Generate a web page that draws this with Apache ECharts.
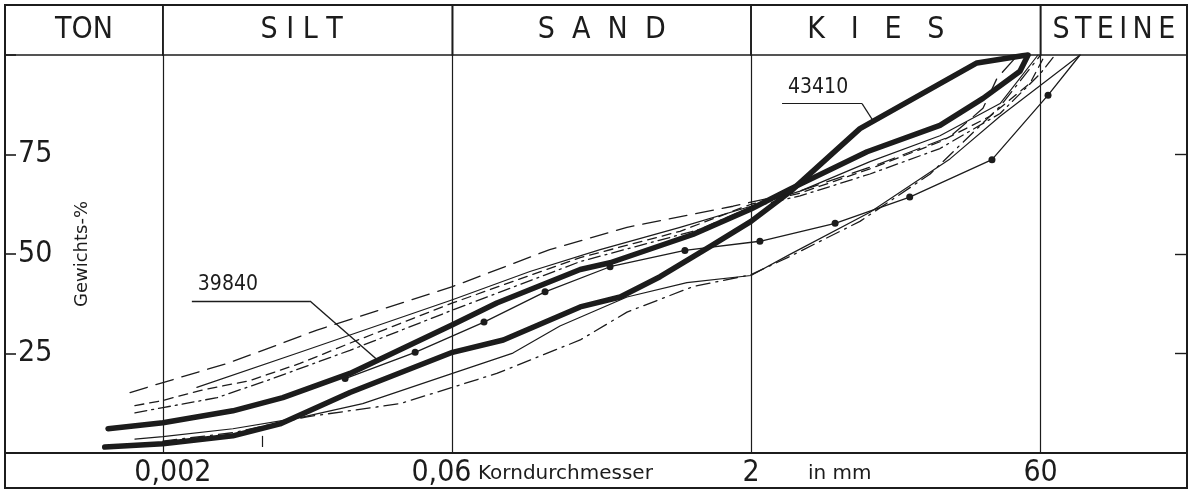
<!DOCTYPE html>
<html><head><meta charset="utf-8">
<script src="https://cdn.jsdelivr.net/npm/echarts@6/dist/echarts.min.js"></script>
<style>html,body{margin:0;padding:0;background:#fff;}#c{width:1189px;height:490px;}</style>
</head><body><div id="c"></div>
<script>
// ---- axis / zone data ----
const xMin = 0.000313, xMax = 335;
const zoneBounds = [xMin, 0.002, 0.06, 2, 60, xMax];
const zoneNames = ['TON', 'S I L T', 'S  A  N  D', 'K   I   E   S', 'S\u2009T\u2009E\u2009I\u2009N\u2009E'];
const sizeTicks = [0.002, 0.06, 2, 60];
const sizeTickLabels = ['0,002', '0,06', '2', '60'];
const yTickValues = [25, 50, 75];

// ---- grading curves: [grain diameter mm, passing %] ----
const s39840 = [[0.00105,6.1],[0.002,7.6],[0.00455,10.6],[0.00818,13.9],[0.018,20.0],[0.06,32.2],[0.101,37.7],[0.269,46.1],[0.382,47.8],[1.01,54.9],[2,61.3],[3.16,66.3],[7.82,75.7],[18.4,82.3],[30.5,89.1],[47.1,95.9],[51.8,100]];
const s43410 = [[0.00101,1.5],[0.002,2.3],[0.00455,4.3],[0.00791,7.3],[0.018,15.2],[0.06,25.3],[0.109,28.4],[0.269,36.7],[0.43,39.2],[0.687,44.3],[1.24,51.9],[2,58.2],[3.16,65.6],[7.19,81.5],[28.4,98.0],[51.2,100]];
const sDots = [[0.017,18.7],[0.0387,25.3],[0.0869,32.9],[0.178,40.5],[0.382,46.8],[0.92,50.9],[2.22,53.2],[5.37,57.7],[12.9,64.3],[33.9,73.7],[65.5,89.9],[95.4,100]];
const sLongDash = [[0.00136,15.2],[0.002,17.7],[0.00425,22.5],[0.00764,27.1],[0.01222,30.9],[0.06,41.8],[0.188,51.1],[0.466,56.7],[1.62,62.0],[3.56,65.8],[9.10,72.7],[20.7,79.5],[30.5,86.6],[36.0,94.2],[46.0,100]];
const sDash = [[0.00144,11.9],[0.002,13.2],[0.00309,15.7],[0.00556,18.2],[0.01,22.5],[0.018,27.6],[0.06,37.7],[0.269,49.1],[0.869,55.7],[2,62.5],[3.56,65.3],[8.09,71.4],[18.4,78.2],[33.1,84.6],[53.0,92.9],[63.2,100]];
const sDashDot = [[0.00144,10.1],[0.002,11.4],[0.00378,13.9],[0.00679,18.2],[0.018,25.8],[0.06,35.9],[0.269,48.1],[1.10,56.2],[2,61.8],[3.56,64.6],[8.09,70.1],[18.4,76.5],[37.3,85.3],[60,95.4],[71.1,100]];
const sThin = [[0.00298,16.5],[0.01,25.3],[0.06,38.5],[0.149,45.6],[0.340,51.1],[0.869,56.7],[2,62.0],[3.56,65.8],[8.09,73.2],[18.4,79.7],[37.3,87.8],[58.2,100]];
const sThinLow = [[0.00144,3.5],[0.002,4.1],[0.00455,6.1],[0.01,8.9],[0.0209,12.4],[0.06,20.0],[0.122,25.1],[0.212,31.9],[0.466,39.2],[0.942,42.8],[2,44.6],[3.16,49.9],[8.09,60.5],[20.7,73.9],[37.3,84.6],[95.4,100]];
const sDashDotLow = [[0.002,3.0],[0.00455,5.1],[0.01087,9.1],[0.0324,12.4],[0.06,16.5],[0.101,20.0],[0.269,28.4],[0.466,35.4],[1.01,41.8],[2,44.8],[3.16,49.4],[7.19,58.2],[16.4,70.1],[37.3,87.1],[60,100]];

// ---- annotations ----
const leader39840 = [[0.00281,38.2],[0.01125,38.2],[0.0247,23.5]];
const leader43410 = [[2.88,87.8],[7.37,87.8],[8.38,83.5]];
const smallMark = [[0.0064,1.5],[0.0064,4.3]];

const F = "'DejaVu Sans Condensed','DejaVu Sans',sans-serif";
const F2 = "'DejaVu Sans',sans-serif";
const INK = '#1c1c1c';
const zoneLabelShift = [0, -6, 0, -20, 0];
const tickLabelShift = [10, -11, 0, 0];
const rightTickStart = xMax / Math.pow(10, 12 / 196);

function segments(pts, text){
  const out = [];
  for (let i = 0; i < pts.length - 1; i++) {
    const lab = (i === 0 && text) ? {show:true, formatter:text, position:'insideStartTop', distance:6, fontFamily:F, fontSize:21, color:INK} : {show:false};
    out.push([{coord:pts[i], label:lab}, {coord:pts[i+1], label:lab}]);
  }
  return out;
}

function curve(name, data, width, type, extra){
  return Object.assign({
    name, type:'line', data, xAxisIndex:0, yAxisIndex:0,
    symbol:'none', smooth:false, silent:true,
    lineStyle:{color:INK, width, type, join:'round', cap:'round'},
    z:3
  }, extra || {});
}

const chart = echarts.init(document.getElementById('c'));
chart.setOption({
  animation:false,
  backgroundColor:'#fff',
  grid:[
    {left:5, right:2, top:55, bottom:37},
    {left:5, right:2, top:5, height:50}
  ],
  xAxis:[
    {type:'log', logBase:10, min:xMin, max:xMax, gridIndex:0,
     axisLine:{show:true, lineStyle:{color:INK, width:2}},
     axisTick:{show:false}, axisLabel:{show:false}, splitLine:{show:false}},
    {type:'log', logBase:10, min:xMin, max:xMax, gridIndex:1, show:false}
  ],
  yAxis:[
    {type:'value', min:0, max:100, interval:25, gridIndex:0, position:'left',
     axisLine:{show:false},
     axisTick:{show:true, inside:true, length:11, lineStyle:{color:INK, width:1.6}},
     axisLabel:{show:true, inside:true, margin:13, fontFamily:F, fontSize:30, color:INK,
       formatter:v => yTickValues.indexOf(v) >= 0 ? String(v) : ''},
     splitLine:{show:false},
     name:'Gewichts-%', nameLocation:'middle', nameRotate:90, nameGap:-86,
     nameTextStyle:{fontFamily:F2, fontSize:18, color:INK}},
    {type:'value', min:0, max:1, gridIndex:1, show:false}
  ],
  graphic:[
    {type:'rect', shape:{x:5, y:5, width:1182, height:483}, style:{fill:'none', stroke:INK, lineWidth:2}, z:10},
    {type:'text', left:478, top:464, style:{text:'Korndurchmesser', fontFamily:F2, fontSize:20, fill:INK}},
    {type:'text', left:808, top:464, style:{text:'in mm', fontFamily:F2, fontSize:20, fill:INK}}
  ],
  series:[
    {type:'line', name:'zones', data:[], xAxisIndex:1, yAxisIndex:1, silent:true,
     markArea:{silent:true,
       itemStyle:{color:'rgba(0,0,0,0)', borderColor:INK, borderWidth:1.6},
       label:{show:true, position:'inside', fontFamily:F, fontSize:30, color:INK},
       data: zoneNames.map((n,i) => [{name:n, xAxis:zoneBounds[i], label:{offset:[zoneLabelShift[i],0]}}, {xAxis:zoneBounds[i+1]}])}},
    curve('39840', s39840, 5.5, 'solid', {
      markLine:{silent:true, precision:10, symbol:['none','none'], lineStyle:{color:INK, width:1.4, type:'solid'},
        data: segments(leader39840, '39840')
          .concat(yTickValues.map(v => [{coord:[rightTickStart, v], label:{show:false}}, {coord:[xMax, v], label:{show:false}}]))}}),
    curve('43410', s43410, 5.5, 'solid', {
      markLine:{silent:true, precision:10, symbol:['none','none'], animation:false,
        lineStyle:{color:INK, width:1.2, type:'solid'},
        label:{show:true, position:'start', distance:5, fontFamily:F, fontSize:30, color:INK},
        data: sizeTicks.map((v,i) => ({xAxis:v, label:{formatter:sizeTickLabels[i], offset:[tickLabelShift[i],0]}}))
          .concat(segments(smallMark, null))
          .concat(segments(leader43410, '43410'))}}),
    curve('dots', sDots, 1.3, 'solid', {
      symbol:(v, p) => p.dataIndex === sDots.length - 1 ? 'none' : 'circle',
      symbolSize:7, showAllSymbol:true, itemStyle:{color:INK}}),
    curve('longdash', sLongDash, 1.3, [18, 9]),
    curve('dash', sDash, 1.3, [9, 6]),
    curve('dashdot', sDashDot, 1.3, [12, 5, 2, 5]),
    curve('thin', sThin, 1.2, 'solid'),
    curve('thinlow', sThinLow, 1.2, 'solid'),
    curve('dashdotlow', sDashDotLow, 1.3, [14, 6, 2, 6])
  ]
});
</script></body></html>
